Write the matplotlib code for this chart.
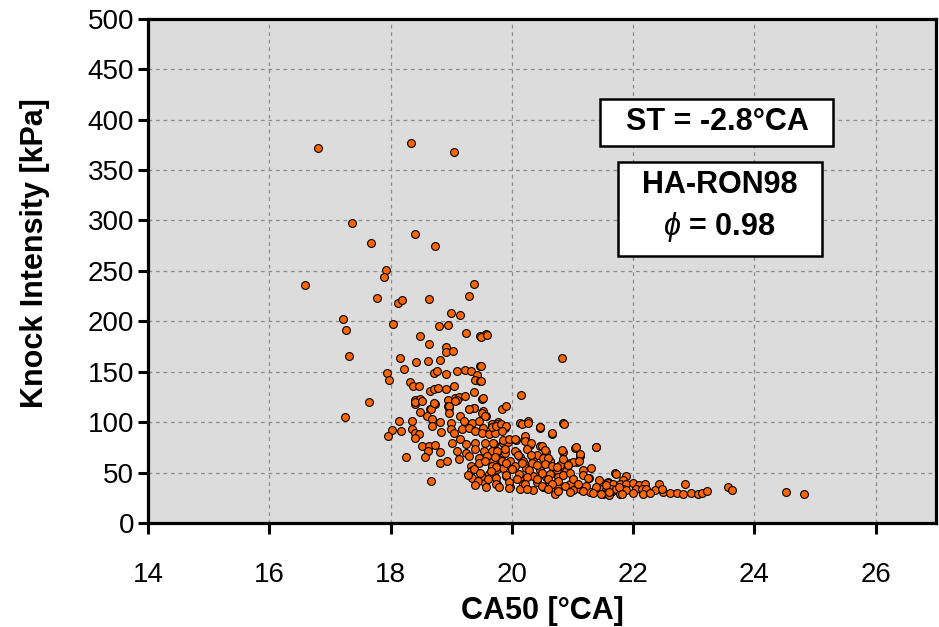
import matplotlib
matplotlib.use("Agg")
import matplotlib.pyplot as plt
from matplotlib.patches import Rectangle
import numpy as np

plt.rcParams['font.family'] = ['Liberation Sans', 'DejaVu Sans']
plt.rcParams['mathtext.fontset'] = 'custom'
plt.rcParams['mathtext.it'] = 'Liberation Sans:italic'
plt.rcParams['mathtext.rm'] = 'Liberation Sans:bold'

# ---- data (CA50 [°CA], Knock Intensity [kPa]) ----
ca50_a = [16.80, 18.34, 19.04, 17.37, 17.67, 18.40, 18.74, 16.59, 17.93, 17.90, 17.77, 19.37, 19.30,
          17.22, 17.26, 17.31, 17.65, 17.25]
ki_a = [372, 377, 368, 297, 278, 287, 275, 236, 251, 244, 223, 237, 225, 202, 191, 166, 120, 105]

ca50_b = [18.13, 18.19, 18.64, 19.00, 19.14, 18.04, 18.80, 18.94, 19.24, 19.47, 19.58, 18.48, 18.64,
          18.92, 18.92, 19.03, 18.15, 18.42, 18.62, 18.81, 19.48, 17.94, 17.98, 18.23, 18.71, 18.77,
          18.91, 19.09, 19.22, 19.33, 19.42, 19.40, 19.47, 18.32, 18.37, 18.47, 18.65, 18.71, 18.79,
          18.92, 19.04, 19.37, 18.41, 18.49, 18.40, 18.65, 18.73, 18.95, 19.06, 19.13, 19.22, 19.51,
          18.95, 19.10, 19.29, 19.37, 18.97]
ki_b = [218, 221, 222, 208, 206, 197, 195, 196, 188, 185, 187, 185, 177, 174, 170, 171, 164, 160,
        161, 162, 156, 149, 142, 153, 149, 151, 148, 151, 152, 151, 147, 142, 141, 140, 136, 136,
        131, 133, 134, 133, 136, 130, 122, 123, 118, 113, 118, 122, 124, 125, 126, 123, 116, 122,
        113, 114, 114]

ca50_c = [19.49, 19.59, 20.82, 19.50, 19.49, 20.15, 19.52, 19.52, 19.58, 19.84, 19.90, 19.77, 19.69,
          19.88, 20.14, 20.26, 20.47, 20.85, 19.52]
ki_c = [184, 186, 164, 156, 141, 127, 124, 111, 106, 113, 116, 100, 97, 96, 99, 101, 95, 99, 94]

ca50_d = [18.40, 18.52, 18.66, 18.71, 18.96, 18.96, 19.07, 19.37, 19.29, 18.49, 18.60, 18.69, 18.14,
          18.35, 18.82, 18.99, 19.14, 19.21, 19.35, 19.51, 19.56, 19.46, 19.67, 18.03, 18.18, 18.36,
          18.41, 18.47, 18.68, 18.84, 19.00, 19.04, 19.18, 19.29, 19.40, 19.51, 19.62, 19.73, 17.95,
          18.40, 18.52, 18.63, 18.74, 18.62, 18.82, 19.02, 19.15, 19.24, 19.40, 19.56, 19.70, 19.10,
          19.24, 19.40, 19.54, 19.67, 18.26, 18.57, 18.82, 18.93, 19.13, 19.29, 19.46, 19.59, 19.73,
          19.32, 19.46, 19.56, 19.32, 19.37, 19.51, 19.62, 19.70, 19.76, 18.66]
ki_d = [120, 121, 113, 119, 116, 109, 121, 114, 113, 110, 106, 103, 101, 101, 100, 99, 106, 101,
        99, 109, 106, 101, 98, 92, 91, 93, 89, 88, 96, 90, 93, 89, 93, 94, 91, 89, 88, 89, 86, 84,
        76, 76, 77, 71, 70, 79, 83, 78, 79, 79, 78, 71, 69, 73, 71, 71, 65, 65, 59, 61, 63, 66, 64,
        66, 63, 56, 59, 61, 51, 53, 46, 49, 48, 53, 42]

ca50_e = [19.68, 19.75, 19.88, 20.16, 20.27, 20.47, 20.86, 20.67, 19.69, 19.86, 19.94, 20.07, 20.21,
          20.30, 20.47, 21.05, 21.39, 20.85, 21.12, 20.57, 19.75, 19.88, 20.08, 20.13, 20.41, 20.52,
          19.69, 19.80, 19.97, 20.19, 20.35, 20.63, 20.79, 20.96, 21.07, 19.67, 19.86, 20.05, 20.24,
          20.46, 20.74, 20.90, 21.18, 21.70, 19.69, 19.91, 20.13, 20.35, 20.57, 20.76, 21.01, 21.28,
          21.45, 21.59, 19.75, 19.97, 20.19, 20.41, 20.60, 20.74, 20.96, 21.12, 21.29, 21.45, 21.64,
          21.75, 20.13, 20.35, 20.52, 20.71, 21.01]
ki_e = [95, 98, 94, 98, 99, 94, 98, 88, 79, 79, 80, 82, 85, 77, 76, 74, 75, 70, 66, 70, 70, 69, 69,
        65, 67, 64, 61, 62, 61, 61, 61, 61, 57, 59, 60, 56, 54, 56, 54, 52, 52, 51, 52, 50, 47, 47,
        46, 47, 46, 46, 44, 45, 41, 41, 39, 36, 39, 41, 37, 36, 39, 34, 31, 33, 31, 32, 34, 33, 36,
        29, 33]

ca50_f = [21.71, 21.89, 21.83, 21.48, 21.59, 21.67, 21.78, 21.88, 22.00, 22.10, 22.19, 22.43, 22.85,
          21.48, 21.56, 21.64, 21.72, 21.83, 21.89, 22.04, 22.14, 22.22, 22.36, 22.50, 22.61, 22.72,
          22.83, 22.96, 23.07, 23.13, 23.22, 21.50, 21.61, 21.78, 22.00, 22.17, 22.28, 22.47, 23.57,
          23.63, 24.52, 24.82]
ki_f = [49, 47, 43, 40, 40, 39, 39, 39, 40, 38, 39, 39, 39, 34, 33, 34, 34, 34, 33, 34, 34, 34, 33,
        31, 30, 30, 29, 30, 29, 30, 32, 29, 28, 29, 30, 29, 30, 34, 36, 33, 31, 29]

ca50_g = [19.74, 19.82, 19.90, 20.47, 19.84, 20.67, 20.21, 19.85, 19.95, 20.05, 20.22, 20.31, 20.50,
          21.06, 21.39, 19.75, 19.88, 20.06, 20.25, 20.55, 20.83, 21.13, 19.73, 20.11, 20.32, 20.59,
          20.84, 21.01, 21.11, 19.83, 19.91, 20.16, 20.33, 20.42, 20.54, 20.67, 20.75, 20.92, 21.30,
          19.74, 20.00, 20.12, 20.29, 20.50, 20.63, 20.84, 20.96, 21.17, 19.66, 19.74, 19.91, 20.08,
          20.25, 20.42, 20.59, 20.76, 21.01, 21.26, 21.43, 19.74, 19.95, 20.21, 20.50, 20.67, 20.88,
          21.09, 21.22, 21.39, 21.55, 21.76, 19.79, 19.95, 20.25, 20.59, 20.76, 20.96, 21.17, 21.34,
          21.47, 21.60, 21.81]
ki_g = [96, 98, 96, 95, 91, 89, 86, 82, 83, 83, 81, 79, 76, 75, 75, 71, 73, 71, 73, 72, 72, 68, 65,
        67, 67, 64, 63, 60, 61, 61, 59, 59, 59, 57, 58, 56, 55, 57, 54, 55, 53, 49, 52, 50, 49, 48,
        50, 48, 51, 45, 48, 44, 46, 44, 44, 42, 44, 45, 43, 39, 41, 39, 37, 39, 37, 39, 37, 36, 38,
        36, 36, 35, 34, 34, 32, 31, 32, 30, 29, 31, 29]

ca50_h = [19.35, 19.45, 19.55, 19.40, 19.60, 19.48, 19.28, 19.58]
ki_h = [45, 42, 40, 38, 44, 50, 48, 36]

ca50 = ca50_a + ca50_b + ca50_c + ca50_d + ca50_e + ca50_f + ca50_g + ca50_h
knock = ki_a + ki_b + ki_c + ki_d + ki_e + ki_f + ki_g + ki_h

x_ticks = [14, 16, 18, 20, 22, 24, 26]
y_ticks = [0, 50, 100, 150, 200, 250, 300, 350, 400, 450, 500]

# ---- figure ----
fig = plt.figure(figsize=(9.39, 6.27), dpi=100)
ax = fig.add_axes([0.1576, 0.166, 0.8395, 0.804])
ax.set_facecolor('#dcdcdc')

ax.scatter(ca50, knock, s=32, facecolor='#ff6600', edgecolor='black', linewidths=0.8, zorder=3)

ax.set_xlim(14, 27)
ax.set_ylim(0, 500)
ax.set_xticks(x_ticks)
ax.set_yticks(y_ticks)
ax.grid(True, color='#8c8c8c', linestyle=(0, (3, 3)), linewidth=0.9, zorder=0)
ax.set_axisbelow(True)

for sp in ax.spines.values():
    sp.set_linewidth(2.3)
    sp.set_color('black')

ax.tick_params(axis='x', direction='out', length=8, width=2.2, pad=20, labelsize=20)
ax.tick_params(axis='y', direction='out', length=7, width=2.2, pad=3, labelsize=20)

ax.set_xlabel('CA50 [°CA]', fontsize=22, fontweight='bold', labelpad=6)
ax.set_ylabel('Knock Intensity [kPa]', fontsize=22, fontweight='bold')
ax.yaxis.set_label_coords(-0.124, 0.535)

# annotation boxes
ax.add_patch(Rectangle((0.574, 0.748), 0.295, 0.093, transform=ax.transAxes,
                       facecolor='white', edgecolor='black', linewidth=1.8, zorder=5))
ax.text(0.722, 0.795, 'ST = -2.8°CA', transform=ax.transAxes, ha='center', va='center',
        fontsize=22, fontweight='bold', zorder=6)

ax.add_patch(Rectangle((0.596, 0.530), 0.259, 0.186, transform=ax.transAxes,
                       facecolor='white', edgecolor='black', linewidth=1.8, zorder=5))
ax.text(0.725, 0.671, 'HA-RON98', transform=ax.transAxes, ha='center', va='center',
        fontsize=22, fontweight='bold', zorder=6)
ax.text(0.725, 0.587, r'$\phi$ = 0.98', transform=ax.transAxes, ha='center', va='center',
        fontsize=22, fontweight='bold', zorder=6)

fig.savefig('out.png', dpi=100)
